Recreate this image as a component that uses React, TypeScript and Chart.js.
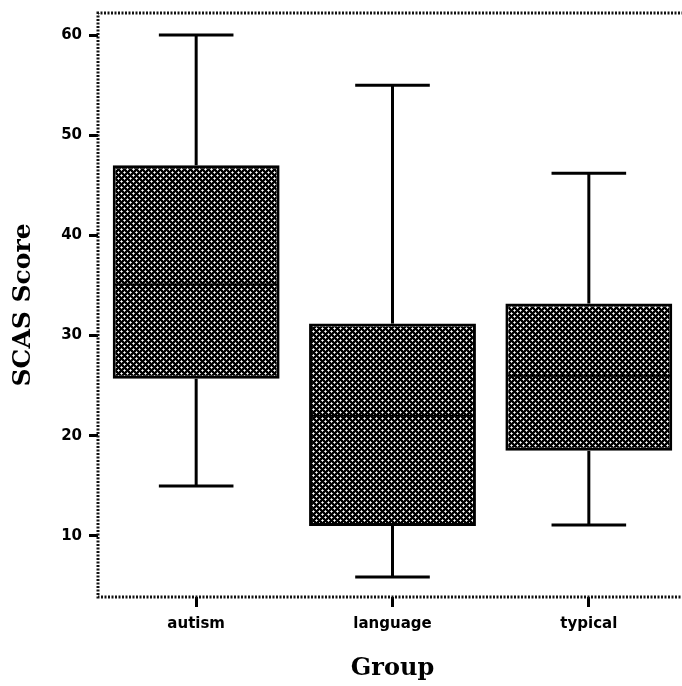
import React, { useEffect, useRef } from 'react';
import { Chart, registerables } from 'chart.js';

Chart.register(...registerables);

const categories = ['autism', 'language', 'typical'];
const whiskerHigh = [60.0, 55.0, 46.2];
const upperQuartile = [47.0, 31.2, 33.2];
const medians = [35.1, 22.0, 26.0];
const lowerQuartile = [25.7, 11.0, 18.5];
const whiskerLow = [15.0, 5.9, 11.1];
const yTickValues = [10, 20, 30, 40, 50, 60];
const yAxisTitle = 'SCAS Score';
const xAxisTitle = 'Group';

function makePattern(): CanvasPattern | string {
  const c = document.createElement('canvas');
  c.width = 6;
  c.height = 6;
  const g = c.getContext('2d');
  if (!g) return '#333';
  g.fillStyle = '#000';
  g.fillRect(0, 0, 6, 6);
  const plus = (x: number, y: number) => {
    g.fillStyle = '#b8b8b8';
    g.fillRect(x - 1, y, 3, 1);
    g.fillRect(x, y - 1, 1, 3);
    g.fillStyle = '#fff';
    g.fillRect(x, y, 1, 1);
  };
  plus(1, 1);
  plus(4, 4);
  return g.createPattern(c, 'repeat') || '#333';
}

const framePlugin = {
  id: 'dottedFrame',
  beforeDatasetsDraw(chart: any) {
    const { ctx, chartArea } = chart;
    const { left, top, right, bottom } = chartArea;
    ctx.save();
    ctx.strokeStyle = '#111';
    ctx.lineWidth = 3;
    ctx.setLineDash([2, 1.5]);
    ctx.beginPath();
    ctx.moveTo(right, top);
    ctx.lineTo(left, top);
    ctx.lineTo(left, bottom);
    ctx.lineTo(right, bottom);
    ctx.stroke();
    ctx.restore();
  },
};

const whiskerPlugin = {
  id: 'whiskers',
  beforeDatasetsDraw(chart: any) {
    const { ctx } = chart;
    const x = chart.scales.x;
    const y = chart.scales.y;
    const step = x.getPixelForValue(1) - x.getPixelForValue(0);
    const cap = (step * 0.38) / 2;
    ctx.save();
    ctx.strokeStyle = '#000';
    ctx.lineWidth = 3;
    ctx.lineCap = 'butt';
    const line = (x1: number, y1: number, x2: number, y2: number) => {
      ctx.beginPath();
      ctx.moveTo(x1, y1);
      ctx.lineTo(x2, y2);
      ctx.stroke();
    };
    categories.forEach((_, i) => {
      const cx = x.getPixelForValue(i);
      const yMax = y.getPixelForValue(whiskerHigh[i]);
      const yMin = y.getPixelForValue(whiskerLow[i]);
      line(cx, y.getPixelForValue(upperQuartile[i]), cx, yMax);
      line(cx - cap, yMax, cx + cap, yMax);
      line(cx, y.getPixelForValue(lowerQuartile[i]), cx, yMin);
      line(cx - cap, yMin, cx + cap, yMin);
    });
    ctx.restore();
  },
  afterDatasetsDraw(chart: any) {
    const { ctx } = chart;
    const x = chart.scales.x;
    const y = chart.scales.y;
    const step = x.getPixelForValue(1) - x.getPixelForValue(0);
    const half = (step * 0.85) / 2;
    ctx.save();
    ctx.strokeStyle = '#000';
    ctx.lineWidth = 2;
    categories.forEach((_, i) => {
      const cx = x.getPixelForValue(i);
      const ym = y.getPixelForValue(medians[i]);
      ctx.beginPath();
      ctx.moveTo(cx - half + 2, ym);
      ctx.lineTo(cx + half - 2, ym);
      ctx.stroke();
    });
    ctx.restore();
  },
};

export default function App() {
  const ref = useRef<HTMLCanvasElement>(null);

  useEffect(() => {
    document.body.style.margin = '0';
    document.body.style.overflow = 'hidden';
    if (!ref.current) return;
    const pattern = makePattern();
    const chart = new Chart(ref.current, {
      type: 'bar',
      data: {
        labels: categories,
        datasets: [
          {
            data: categories.map((_, i) => [lowerQuartile[i], upperQuartile[i]]) as any,
            backgroundColor: pattern as any,
            borderColor: '#000',
            borderWidth: 3,
            borderSkipped: false,
            barPercentage: 0.85,
            categoryPercentage: 1,
          },
        ],
      },
      options: {
        animation: false,
        responsive: false,
        layout: { padding: { top: 13, right: 1, left: 0, bottom: 0 } },
        plugins: { legend: { display: false }, tooltip: { enabled: false } },
        scales: {
          x: {
            type: 'category',
            position: 'bottom',
            offset: true,
            grid: { offset: false, drawOnChartArea: false, drawTicks: true, tickLength: 10, tickWidth: 3, tickColor: '#000' },
            border: { display: false },
            ticks: { color: '#000', padding: 8, font: { family: 'DejaVu Sans', weight: 'bold', size: 15 } },
            title: {
              display: true,
              text: xAxisTitle,
              color: '#000',
              padding: { top: 0, bottom: 3 },
              font: { family: 'DejaVu Serif', weight: 'bold', size: 24 },
            },
            afterFit: (s: any) => {
              s.height = 89;
              s.paddingLeft = 0;
              s.paddingRight = 0;
            },
          },
          y: {
            type: 'linear',
            position: 'left',
            min: 3.91,
            max: 62.2,
            grid: { drawOnChartArea: false, drawTicks: true, tickLength: 9, tickWidth: 3, tickColor: '#000' },
            border: { display: false },
            ticks: { color: '#000', padding: 7, includeBounds: false, font: { family: 'DejaVu Sans', weight: 'bold', size: 15 } },
            afterBuildTicks: (s: any) => { s.ticks = yTickValues.map((v) => ({ value: v })); },
            title: {
              display: true,
              text: yAxisTitle,
              color: '#000',
              padding: { top: 8, bottom: 0 },
              font: { family: 'DejaVu Serif', weight: 'bold', size: 25 },
            },
            afterFit: (s: any) => {
              s.width = 98;
              s.paddingTop = 0;
              s.paddingBottom = 0;
            },
          },
        },
      },
      plugins: [framePlugin, whiskerPlugin],
    });
    return () => chart.destroy();
  }, []);

  return <canvas ref={ref} width={688} height={686} style={{ display: 'block' }} />;
}
